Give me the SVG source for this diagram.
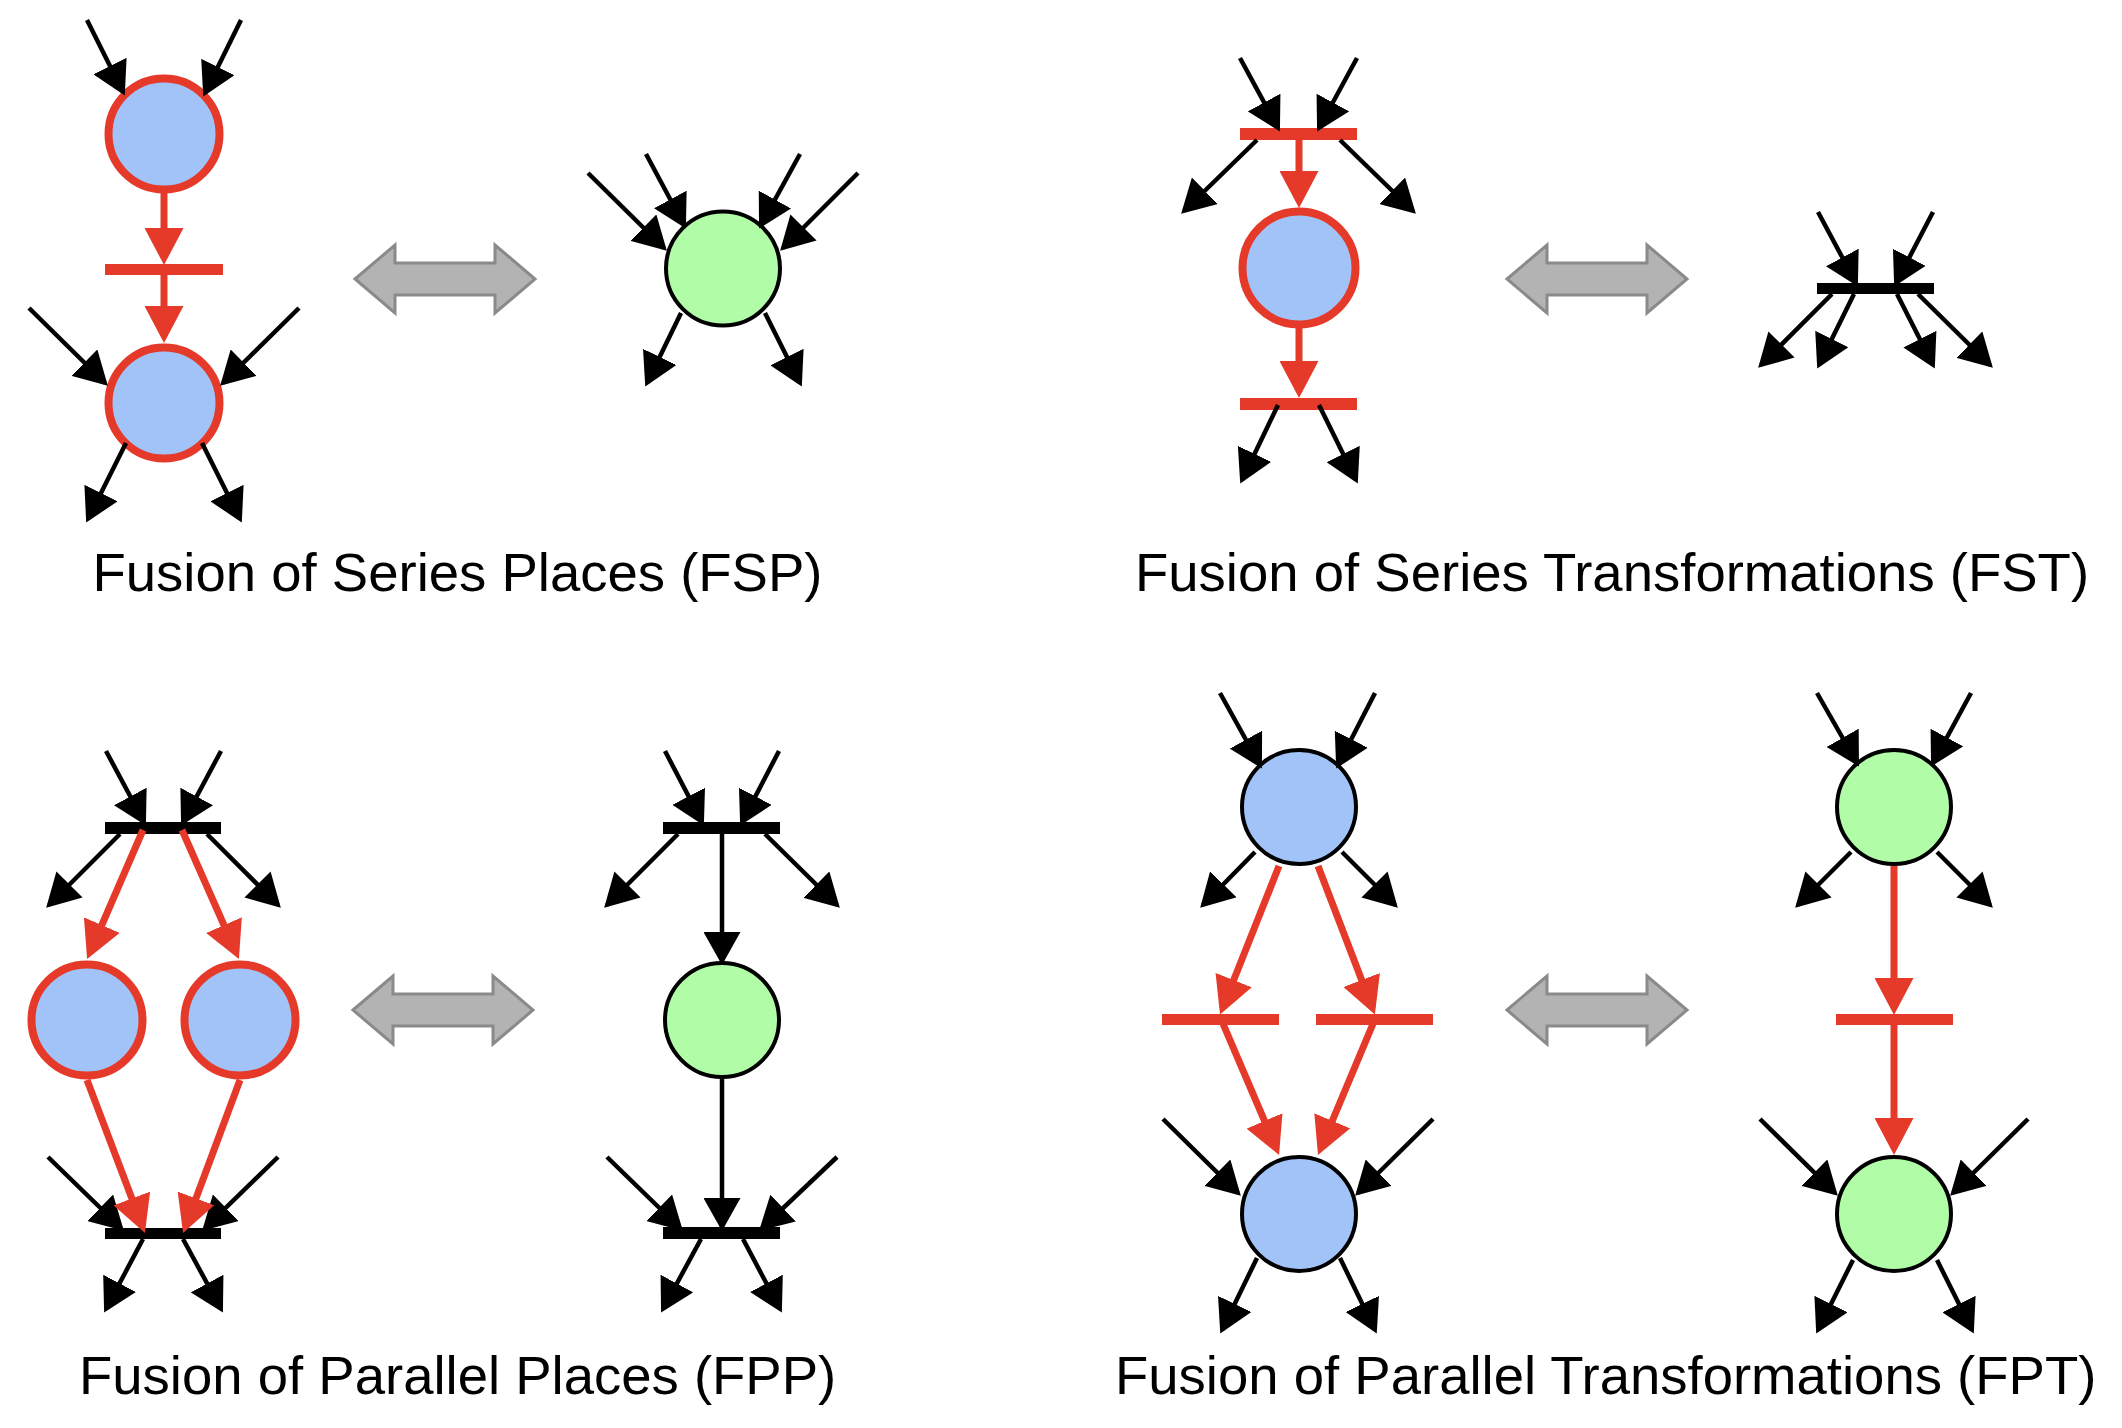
<svg xmlns="http://www.w3.org/2000/svg" xmlns:xlink="http://www.w3.org/1999/xlink" width="2122" height="1428" viewBox="0 0 2122 1428">
<style>
.bg{fill:#ffffff}
.pr{fill:#a2c3f7;stroke:#e5392a;stroke-width:8}
.pb{fill:#a2c3f7;stroke:#000;stroke-width:4}
.pg{fill:#b1fca6;stroke:#000;stroke-width:4}
.tr{fill:#e5392a}
.tb{fill:#000}
.ab{stroke:#000;stroke-width:4.5;fill:none;marker-end:url(#mb)}
.ar{stroke:#e5392a;stroke-width:7;fill:none;marker-end:url(#mr)}
.gray{fill:#b3b3b3;stroke:#8a8a8a;stroke-width:3;stroke-linejoin:miter}
.lbl{font-family:"Liberation Sans",Arial,sans-serif;font-size:54.5px;fill:#000}
</style>
<defs>
<marker id="mb" viewBox="0 0 33 37" markerWidth="33" markerHeight="37" refX="29" refY="18.5" orient="auto" markerUnits="userSpaceOnUse"><path d="M0,0L33,18.5L0,37z" fill="#000"/></marker>
<marker id="mr" viewBox="0 0 37 39" markerWidth="37" markerHeight="39" refX="30" refY="19.5" orient="auto" markerUnits="userSpaceOnUse"><path d="M0,0L37,19.5L0,39z" fill="#e5392a"/></marker>
<path id="dbl" d="M-90,0L-50,-34L-50,-16L50,-16L50,-34L90,0L50,34L50,16L-50,16L-50,34Z"/>
</defs>
<rect class="bg" x="0" y="0" width="2122" height="1428"/>

<!-- FSP -->
<g id="fsp-p1"><circle class="pr" cx="164" cy="134" r="55.5"/></g>
<g id="fsp-t1"><rect class="tr" x="105" y="264" width="118" height="11"/></g>
<g id="fsp-p2"><circle class="pr" cx="164" cy="403" r="55.5"/></g>
<g id="fsp-equiv"><use href="#dbl" class="gray" x="445" y="279"/></g>
<g id="fsp-pg"><circle class="pg" cx="723" cy="268.5" r="57"/></g>

<!-- FST -->
<g id="fst-t1"><rect class="tr" x="1240" y="128" width="117" height="12"/></g>
<g id="fst-p1"><circle class="pr" cx="1299" cy="268" r="56.5"/></g>
<g id="fst-t2"><rect class="tr" x="1240" y="398" width="117" height="12"/></g>
<g id="fst-equiv"><use href="#dbl" class="gray" x="1597" y="279"/></g>
<g id="fst-tb"><rect class="tb" x="1817" y="283" width="117" height="11"/></g>

<!-- FPP -->
<g id="fpp-t1"><rect class="tb" x="105" y="822" width="116" height="12"/></g>
<g id="fpp-p1"><circle class="pr" cx="87" cy="1020" r="55.5"/></g>
<g id="fpp-p2"><circle class="pr" cx="240" cy="1020" r="55.5"/></g>
<g id="fpp-t2"><rect class="tb" x="105" y="1228" width="116" height="11"/></g>
<g id="fpp-equiv"><use href="#dbl" class="gray" x="443" y="1010"/></g>
<g id="fpp-tb1"><rect class="tb" x="663" y="822" width="117" height="12"/></g>
<g id="fpp-pg"><circle class="pg" cx="722" cy="1020" r="57"/></g>
<g id="fpp-tb2"><rect class="tb" x="663" y="1227" width="117" height="12"/></g>

<!-- FPT -->
<g id="fpt-p1"><circle class="pb" cx="1299" cy="807" r="57"/></g>
<g id="fpt-t1"><rect class="tr" x="1162" y="1014" width="117" height="11"/></g>
<g id="fpt-t2"><rect class="tr" x="1316" y="1014" width="117" height="11"/></g>
<g id="fpt-p2"><circle class="pb" cx="1299" cy="1214" r="57"/></g>
<g id="fpt-equiv"><use href="#dbl" class="gray" x="1597" y="1010"/></g>
<g id="fpt-pg1"><circle class="pg" cx="1894" cy="807" r="57"/></g>
<g id="fpt-tr"><rect class="tr" x="1836" y="1014" width="117" height="11"/></g>
<g id="fpt-pg2"><circle class="pg" cx="1894" cy="1214" r="57"/></g>

<g id="connectors">
<!-- FSP left -->
<line class="ab" x1="87" y1="20" x2="123" y2="92"/>
<line class="ab" x1="241" y1="20" x2="205" y2="93"/>
<line class="ar" x1="164" y1="190" x2="164" y2="258"/>
<line class="ar" x1="164" y1="270" x2="164" y2="336"/>
<line class="ab" x1="29" y1="308" x2="105" y2="383"/>
<line class="ab" x1="299" y1="308" x2="223" y2="383"/>
<line class="ab" x1="126" y1="443" x2="88" y2="519"/>
<line class="ab" x1="202" y1="443" x2="240" y2="519"/>
<!-- FSP right -->
<line class="ab" x1="588" y1="173" x2="664" y2="248"/>
<line class="ab" x1="646" y1="154" x2="684" y2="225"/>
<line class="ab" x1="800" y1="154" x2="761" y2="225"/>
<line class="ab" x1="858" y1="173" x2="783" y2="248"/>
<line class="ab" x1="681" y1="313" x2="647" y2="383"/>
<line class="ab" x1="765" y1="313" x2="800" y2="383"/>
<!-- FST left -->
<line class="ab" x1="1240" y1="58" x2="1278" y2="128"/>
<line class="ab" x1="1357" y1="58" x2="1319" y2="128"/>
<line class="ab" x1="1257" y1="140" x2="1184" y2="211"/>
<line class="ab" x1="1340" y1="140" x2="1413" y2="211"/>
<line class="ar" x1="1299" y1="140" x2="1299" y2="201"/>
<line class="ar" x1="1299" y1="328" x2="1299" y2="391"/>
<line class="ab" x1="1278" y1="405" x2="1242" y2="480"/>
<line class="ab" x1="1319" y1="405" x2="1356" y2="480"/>
<!-- FST right -->
<line class="ab" x1="1818" y1="212" x2="1856" y2="283"/>
<line class="ab" x1="1933" y1="212" x2="1896" y2="283"/>
<line class="ab" x1="1832" y1="294" x2="1761" y2="365"/>
<line class="ab" x1="1854" y1="294" x2="1819" y2="365"/>
<line class="ab" x1="1897" y1="294" x2="1933" y2="365"/>
<line class="ab" x1="1918" y1="294" x2="1990" y2="365"/>
<!-- FPP left -->
<line class="ab" x1="106" y1="751" x2="144" y2="822"/>
<line class="ab" x1="221" y1="751" x2="183" y2="822"/>
<line class="ab" x1="120" y1="834" x2="49" y2="905"/>
<line class="ab" x1="207" y1="834" x2="278" y2="905"/>
<line class="ar" x1="143" y1="830" x2="89.9" y2="952.6"/>
<line class="ar" x1="182" y1="830" x2="236.1" y2="952.6"/>
<line class="ab" x1="48" y1="1157" x2="121" y2="1228"/>
<line class="ab" x1="278" y1="1157" x2="205" y2="1228"/>
<line class="ar" x1="87" y1="1080" x2="142.5" y2="1226.5"/>
<line class="ar" x1="240" y1="1080" x2="185.5" y2="1226.5"/>
<line class="ab" x1="143" y1="1239" x2="106" y2="1309"/>
<line class="ab" x1="183" y1="1239" x2="221" y2="1309"/>
<!-- FPP right -->
<line class="ab" x1="665" y1="751" x2="702" y2="822"/>
<line class="ab" x1="779" y1="751" x2="742" y2="822"/>
<line class="ab" x1="678" y1="834" x2="607" y2="905"/>
<line class="ab" x1="765" y1="834" x2="837" y2="905"/>
<line class="ab" x1="722" y1="834" x2="722" y2="961"/>
<line class="ab" x1="722" y1="1079" x2="722" y2="1227"/>
<line class="ab" x1="607" y1="1157" x2="680" y2="1228"/>
<line class="ab" x1="837" y1="1157" x2="762" y2="1228"/>
<line class="ab" x1="701" y1="1239" x2="663" y2="1309"/>
<line class="ab" x1="743" y1="1239" x2="780" y2="1309"/>
<!-- FPT left -->
<line class="ab" x1="1220" y1="693" x2="1260" y2="765"/>
<line class="ab" x1="1375" y1="693" x2="1338" y2="765"/>
<line class="ab" x1="1255" y1="852" x2="1203" y2="905"/>
<line class="ab" x1="1342" y1="852" x2="1395" y2="905"/>
<line class="ar" x1="1279" y1="866" x2="1222.6" y2="1008"/>
<line class="ar" x1="1318" y1="866" x2="1372.4" y2="1008"/>
<line class="ar" x1="1221" y1="1019" x2="1276.3" y2="1148.5"/>
<line class="ar" x1="1375" y1="1019" x2="1320.7" y2="1148.5"/>
<line class="ab" x1="1163" y1="1119" x2="1238" y2="1193"/>
<line class="ab" x1="1433" y1="1119" x2="1358" y2="1193"/>
<line class="ab" x1="1257" y1="1258" x2="1222" y2="1330"/>
<line class="ab" x1="1340" y1="1258" x2="1375" y2="1330"/>
<!-- FPT right -->
<line class="ab" x1="1817" y1="693" x2="1857" y2="763"/>
<line class="ab" x1="1971" y1="693" x2="1933" y2="763"/>
<line class="ab" x1="1851" y1="852" x2="1798" y2="905"/>
<line class="ab" x1="1937" y1="852" x2="1990" y2="905"/>
<line class="ar" x1="1894" y1="866" x2="1894" y2="1008"/>
<line class="ar" x1="1894" y1="1020" x2="1894" y2="1148"/>
<line class="ab" x1="1760" y1="1119" x2="1835" y2="1193"/>
<line class="ab" x1="2028" y1="1119" x2="1953" y2="1193"/>
<line class="ab" x1="1853" y1="1260" x2="1818" y2="1330"/>
<line class="ab" x1="1937" y1="1260" x2="1972" y2="1330"/>
</g>

<g id="labels">
<text class="lbl" x="92.5" y="591">Fusion of Series Places (FSP)</text>
<text class="lbl" x="1135" y="591">Fusion of Series Transformations (FST)</text>
<text class="lbl" x="79" y="1394">Fusion of Parallel Places (FPP)</text>
<text class="lbl" x="1115" y="1394">Fusion of Parallel Transformations (FPT)</text>
</g>
</svg>
